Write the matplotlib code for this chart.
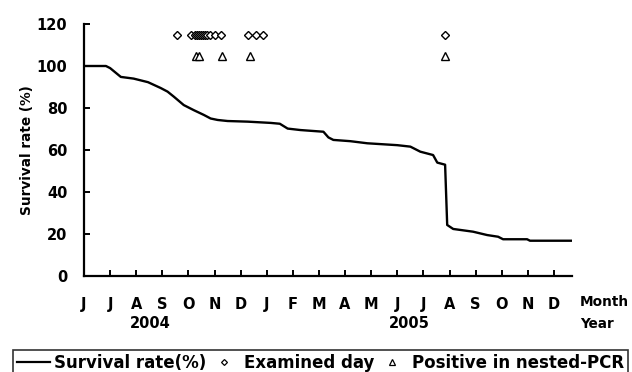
import numpy as np
import matplotlib
matplotlib.use("Agg")
import matplotlib.pyplot as plt
from matplotlib.lines import Line2D

# ---- data ----
month_labels = ['J', 'J', 'A', 'S', 'O', 'N', 'D', 'J', 'F', 'M', 'A', 'M', 'J', 'J', 'A', 'S', 'O', 'N', 'D']
year_labels = ['2004', '2005']
year_pos = [2.55, 12.45]

# survival curve (x in months since start of June 2004)
surv_t = [0, 0.84, 1.0, 1.41, 1.9, 2.45, 2.94, 3.2, 3.44, 3.82, 4.2, 4.59, 4.85, 5.12, 5.5,
          6.27, 7.15, 7.5, 7.8, 8.29, 9.17, 9.36, 9.55, 10.2, 10.85, 12.0, 12.5, 12.88,
          13.37, 13.53, 13.83, 13.91, 14.14, 14.9, 15.44, 15.86, 16.05, 16.97, 17.08, 18.69]
surv_s = [100, 100, 99, 94.8, 94, 92.3, 89.5, 87.8, 85.4, 81.4, 79, 76.7, 75, 74.3, 73.8,
          73.5, 72.9, 72.5, 70.2, 69.5, 68.7, 66, 64.8, 64.2, 63.2, 62.3, 61.6, 59.2,
          57.6, 54.0, 53.0, 24.3, 22.4, 21.1, 19.5, 18.7, 17.5, 17.5, 16.8, 16.8]

examined_t = [3.55, 4.09, 4.24, 4.32, 4.39, 4.47, 4.55, 4.62, 4.70, 4.81, 5.01, 5.24,
              6.30, 6.57, 6.84, 13.83]
examined_y = 115
positive_t = [4.28, 4.39, 5.27, 6.34, 13.83]
positive_y = 105

# ---- plot ----
W, H = 632, 372
fig = plt.figure(figsize=(W / 100, H / 100), dpi=100)
plt.rcParams['font.family'] = ['DejaVu Sans']
fw = 'bold'
fs = 10.5

ax = fig.add_axes([84 / W, 1 - 276 / H, (572 - 84) / W, (276 - 24) / H])
ax.plot(surv_t, surv_s, color='black', lw=1.7, solid_joinstyle='round')
ax.plot(examined_t, [examined_y] * len(examined_t), linestyle='none', marker='D',
        markersize=4.2, markerfacecolor='white', markeredgecolor='black', markeredgewidth=1.0)
ax.plot(positive_t, [positive_y] * len(positive_t), linestyle='none', marker='^',
        markersize=5.5, markerfacecolor='white', markeredgecolor='black', markeredgewidth=1.0)

ax.set_xlim(0, 18.69)
ax.set_ylim(0, 120)
for sp in ['top', 'right']:
    ax.spines[sp].set_visible(False)
for sp in ['left', 'bottom']:
    ax.spines[sp].set_linewidth(1.6)

ax.set_yticks(np.arange(0, 121, 20))
ax.set_yticklabels([str(v) for v in range(0, 121, 20)], fontsize=fs, fontweight=fw)
ax.set_xticks(np.arange(len(month_labels)))
ax.set_xticklabels(month_labels, fontsize=fs, fontweight=fw)
ax.tick_params(axis='both', direction='in', length=4, width=1.4)
ax.tick_params(axis='y', pad=12)
ax.tick_params(axis='x', pad=15)

for yl, yp in zip(year_labels, year_pos):
    ax.text(yp, -0.19, yl, transform=ax.get_xaxis_transform(), ha='center', va='center',
            fontsize=fs, fontweight=fw)

fig.text(580 / W, 1 - 302 / H, 'Month', ha='left', va='center', fontsize=9.8, fontweight=fw)
fig.text(580 / W, 1 - 324 / H, 'Year', ha='left', va='center', fontsize=9.8, fontweight=fw)

ax.set_ylabel('Survival rate (%)', fontsize=9.8, fontweight=fw, labelpad=2)

handles = [
    Line2D([], [], color='black', lw=1.6),
    Line2D([], [], linestyle='none', marker='D', markersize=3, markerfacecolor='white',
           markeredgecolor='black', markeredgewidth=0.9),
    Line2D([], [], linestyle='none', marker='^', markersize=4, markerfacecolor='white',
           markeredgecolor='black', markeredgewidth=0.9),
]
labels = ['Survival rate(%)', 'Examined day', 'Positive in nested-PCR']
leg = fig.legend(handles, labels, loc='upper left', ncol=3,
                 bbox_to_anchor=(13 / W, 1 - 350 / H, (628 - 13) / W, 0.0), mode='expand',
                 frameon=True, fancybox=False, edgecolor='black', borderaxespad=0,
                 prop={'size': 12, 'weight': fw}, handlelength=2.0, handletextpad=0.2,
                 columnspacing=0.1, borderpad=0.25)
leg.get_frame().set_linewidth(1.2)

fig.savefig('out.png', dpi=100)
